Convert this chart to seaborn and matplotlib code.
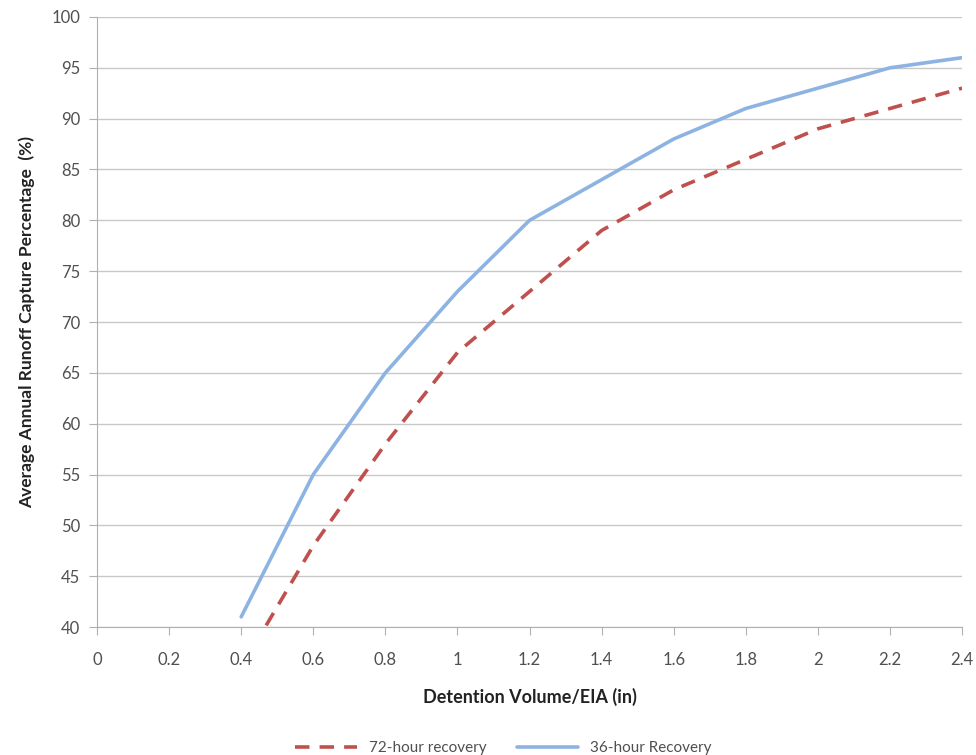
import pandas as pd
import matplotlib.pyplot as plt
import seaborn as sns

# values (every 0.2 in)
volume = [0.4, 0.6, 0.8, 1.0, 1.2, 1.4, 1.6, 1.8, 2.0, 2.2, 2.4]
recovery_72h = [36, 48, 58, 67, 73, 79, 83, 86, 89, 91, 93]
recovery_36h = [41, 55, 65, 73, 80, 84, 88, 91, 93, 95, 96]

df = pd.concat([
    pd.DataFrame({'volume': volume, 'capture': recovery_72h, 'series': '72-hour recovery'}),
    pd.DataFrame({'volume': volume, 'capture': recovery_36h, 'series': '36-hour Recovery'}),
])

sns.set_style('white')
plt.rcParams['font.family'] = ['Lato', 'DejaVu Sans']

fig = plt.figure(figsize=(9.76, 7.55), dpi=100)
ax = fig.add_axes([0.0994, 0.1695, 0.8863, 0.808])

sns.lineplot(data=df, x='volume', y='capture', hue='series', style='series',
             palette={'72-hour recovery': '#C0504D', '36-hour Recovery': '#8DB3E2'},
             dashes={'72-hour recovery': (4, 2.8), '36-hour Recovery': ''},
             linewidth=2.6, ax=ax)

ax.set_xlim(0, 2.4)
ax.set_ylim(40, 100)
ax.set_xticks([0, 0.2, 0.4, 0.6, 0.8, 1, 1.2, 1.4, 1.6, 1.8, 2, 2.2, 2.4])
ax.set_xticklabels(['0', '0.2', '0.4', '0.6', '0.8', '1', '1.2', '1.4', '1.6', '1.8', '2', '2.2', '2.4'])
ax.set_yticks(range(40, 101, 5))
ax.yaxis.grid(True, color='#c8c8c8', linewidth=1)
ax.set_axisbelow(True)
for s in ['top', 'right']:
    ax.spines[s].set_visible(False)
for s in ['left', 'bottom']:
    ax.spines[s].set_color('#b0b0b0')
ax.tick_params(axis='both', colors='#b0b0b0', labelcolor='#505050', labelsize=12,
               length=6, direction='out', left=True, bottom=True)
ax.tick_params(axis='x', pad=12)
ax.tick_params(axis='y', pad=6)

ax.set_xlabel('Detention Volume/EIA (in)', fontsize=13, fontweight='bold', color='#222222', labelpad=14)
ax.set_ylabel('Average Annual Runoff Capture Percentage  (%)', fontsize=12.5, fontweight='bold',
              color='#222222', labelpad=12)

ax.legend(title=None, loc='upper center', bbox_to_anchor=(0.47, -0.165), ncol=2, frameon=False,
          fontsize=11, handlelength=4, columnspacing=2, labelcolor='#505050')

fig.savefig('out.png', dpi=100)
